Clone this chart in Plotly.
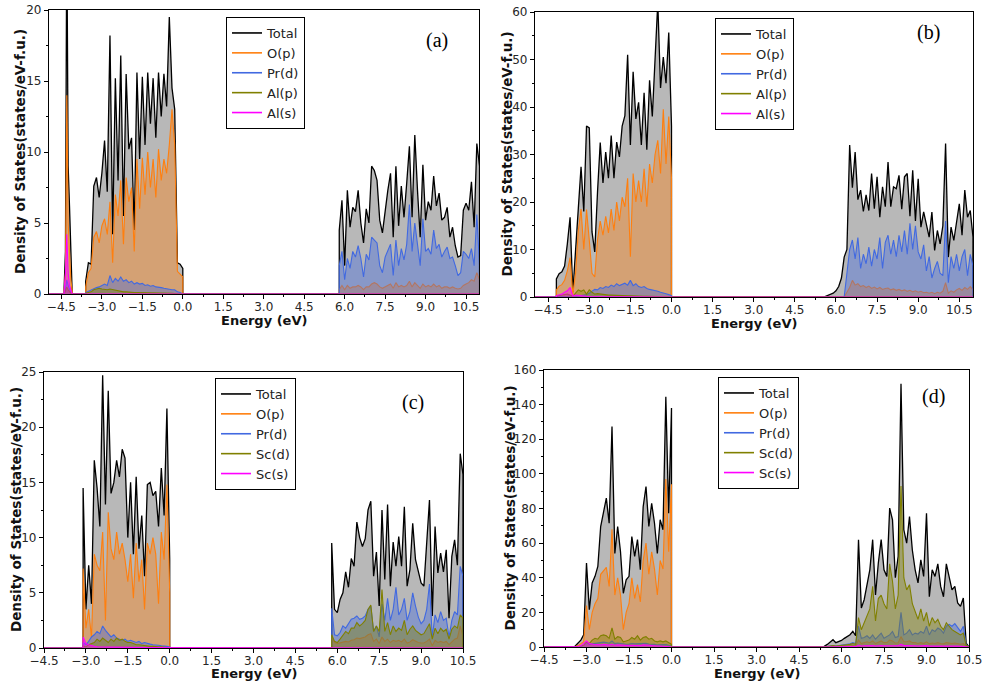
import numpy as np
import plotly.graph_objects as go

W, H = 984, 685
STEP = 0.1      # energy sampling of the bands (eV)
PK_STEP = 0.05  # sampling of the narrow Al peak in (a)

# ====================== DATA ======================
# ---- panel (a) ----
A_PK_START = -4.40
A_TOT_PK = [0.4, 3.0, 26.0, 9.0, 6.2, 2.5, 0.5]
A_OP_PK = [0.2, 1.5, 14.0, 5.0, 3.0, 1.0, 0.2]
A_PRD_PK = [0.05, 0.3, 1.0, 0.6, 0.3, 0.1, 0.0]
A_ALP_PK = [0.02, 0.2, 0.5, 0.3, 0.15, 0.05, 0.0]
A_ALS_PK = [0.1, 1.5, 4.2, 1.5, 0.6, 0.2, 0.0]

A_VB_START = -3.6
A_TOT_VB = [0.9, 2.2, 2.1, 7.6, 8.2, 6.8, 8.5, 10.8, 7.2, 18.2, 4.2, 15.2, 8.0, 16.8, 5.5,
            15.5, 10.2, 11.0, 4.5, 15.6, 9.5, 15.3, 10.5, 15.6, 12.0, 15.2, 11.0, 15.6, 12.5,
            15.5, 13.2, 19.5, 14.5, 13.0, 2.2, 2.1, 1.8]
A_OP_VB = [0.5, 1.5, 1.8, 4.0, 4.4, 3.6, 4.8, 5.3, 4.2, 6.5, 2.2, 7.0, 5.5, 8.0, 3.5, 8.2,
           6.5, 7.5, 3.0, 9.5, 6.0, 9.6, 7.0, 10.0, 7.5, 9.5, 6.8, 10.2, 8.0, 9.5, 8.5, 10.5,
           13.0, 10.5, 1.6, 1.4, 1.2]
A_PRD_VB = [0.1, 0.2, 0.3, 0.4, 0.45, 0.5, 0.6, 0.7, 0.6, 1.3, 0.8, 1.1, 0.9, 1.2, 0.9, 1.0,
            0.8, 0.9, 0.7, 0.8, 0.7, 0.75, 0.6, 0.65, 0.55, 0.6, 0.5, 0.5, 0.45, 0.4, 0.35,
            0.35, 0.3, 0.3, 0.15, 0.1, 0.05]
A_ALP_VB = [0.05, 0.1, 0.15, 0.3, 0.35, 0.4, 0.35, 0.3, 0.3, 0.35, 0.3, 0.25, 0.2, 0.2, 0.15,
            0.15, 0.12, 0.12, 0.1, 0.1, 0.1, 0.1, 0.08, 0.08, 0.08, 0.07, 0.07, 0.06, 0.06,
            0.05, 0.05, 0.05, 0.05, 0.04, 0.03, 0.02, 0.01]

A_CB_START = 5.8
A_TOT_CB = [4.5, 6.6, 2.0, 7.3, 4.7, 6.1, 5.8, 7.3, 5.0, 3.6, 6.0, 5.0, 9.0, 8.7, 8.0, 5.2,
            4.3, 6.0, 7.3, 8.5, 4.0, 9.0, 4.8, 7.6, 5.4, 7.8, 10.4, 5.4, 11.2, 7.3, 4.0, 9.1,
            5.2, 6.5, 5.9, 8.3, 6.2, 7.1, 5.2, 5.4, 6.1, 4.0, 4.7, 3.4, 2.6, 2.7, 5.9, 6.4,
            5.9, 7.9, 4.7, 10.6, 9.0]
A_PRD_CB = [2.0, 3.0, 1.0, 2.5, 1.8, 3.0, 2.6, 3.4, 2.5, 1.2, 2.8, 2.4, 4.0, 3.8, 3.6, 2.0,
            1.5, 2.6, 3.0, 3.5, 1.3, 3.8, 2.0, 3.2, 2.4, 3.5, 6.3, 3.0, 5.0, 3.4, 2.0, 5.3,
            3.0, 3.2, 2.8, 4.5, 3.2, 3.5, 2.6, 3.0, 3.3, 2.5, 2.6, 2.0, 1.3, 1.5, 3.0, 2.8,
            2.5, 3.2, 2.0, 5.6, 2.0]
A_OP_CB = [0.3, 0.6, 0.3, 0.6, 0.4, 0.5, 0.5, 0.6, 0.5, 0.3, 0.5, 0.5, 0.7, 0.8, 0.7, 0.5,
           0.4, 0.5, 0.6, 0.7, 0.4, 0.8, 0.5, 0.6, 0.5, 0.6, 0.9, 0.5, 0.8, 0.6, 0.4, 0.7,
           0.5, 0.6, 0.5, 0.7, 0.5, 0.6, 0.4, 0.5, 0.5, 0.4, 0.5, 0.4, 0.35, 0.4, 0.6, 0.7,
           0.8, 1.0, 0.9, 1.5, 1.0]

# ---- panel (b) ----
B_VB_START = -4.2
B_TOT_VB = [3.8, 4.9, 5.3, 6.5, 11.2, 16.8, 1.0, 8.8, 18.6, 27.4, 18.0, 36.0, 35.6, 13.7,
            9.5, 22.0, 32.5, 24.0, 30.5, 25.0, 34.0, 25.0, 32.6, 29.5, 36.0, 38.2, 51.0,
            32.0, 47.4, 37.5, 41.0, 32.0, 43.0, 31.0, 45.6, 38.0, 50.2, 62.0, 44.0, 50.5,
            45.0, 55.7, 36.0]
B_OP_VB = [1.5, 2.3, 2.6, 3.5, 5.5, 8.3, 0.5, 5.0, 14.0, 18.5, 10.0, 18.4, 12.0, 5.0, 4.2,
           12.0, 16.0, 13.0, 17.0, 13.5, 18.5, 14.0, 20.0, 16.0, 21.0, 19.0, 25.0, 8.5, 26.0,
           20.0, 24.5, 20.0, 27.0, 19.0, 28.0, 24.0, 30.0, 33.0, 26.0, 39.5, 28.0, 38.0, 25.0]
B_PRD_VB = [0.05, 0.05, 0.1, 0.1, 0.15, 0.2, 0.05, 0.1, 0.2, 0.3, 0.3, 0.5, 0.8, 1.2, 1.6,
            1.5, 2.0, 1.8, 2.2, 2.0, 2.5, 2.2, 2.8, 2.4, 2.6, 2.9, 2.5, 3.5, 2.4, 2.8, 2.2,
            2.0, 2.2, 1.8, 1.6, 1.5, 1.3, 1.2, 1.0, 0.9, 0.7, 0.5, 0.3]
B_ALP_VB = [0.2, 0.3, 0.4, 0.5, 0.6, 0.4, 0.1, 0.8, 1.5, 1.2, 1.5, 0.6, 1.5, 1.0, 0.6, 0.7,
            0.6, 0.5, 0.5, 0.4, 0.4, 0.35, 0.35, 0.3, 0.3, 0.3, 0.25, 0.25, 0.2, 0.2, 0.2,
            0.15, 0.15, 0.15, 0.1, 0.1, 0.1, 0.1, 0.08, 0.08, 0.05, 0.05, 0.03]
B_ALS_VB = [0.3, 0.5, 0.6, 1.0, 1.3, 2.0, 0.2, 0.4, 0.3, 0.2, 0.15, 0.15, 0.12, 0.1, 0.1,
            0.1, 0.08, 0.08, 0.08, 0.07, 0.07, 0.06, 0.06, 0.06, 0.05, 0.05, 0.05, 0.05,
            0.04, 0.04, 0.04, 0.04, 0.03, 0.03, 0.03, 0.03, 0.02, 0.02, 0.02, 0.02, 0.02,
            0.01, 0.01]

B_CB_START = 5.5
B_TOT_CB = [0.05, 0.1, 0.3, 0.5, 0.8, 1.3, 2.2, 4.0, 8.4, 10.0, 32.0, 23.0, 30.5, 20.5,
            22.5, 18.0, 21.5, 18.2, 26.0, 18.6, 25.3, 16.8, 23.2, 19.0, 28.4, 19.0, 23.2,
            22.8, 25.6, 18.5, 25.3, 26.0, 17.0, 26.7, 16.0, 24.9, 14.7, 17.9, 15.4, 12.6,
            17.9, 9.8, 14.0, 11.2, 15.0, 32.3, 8.4, 14.7, 11.9, 16.1, 19.6, 13.0, 22.5,
            16.8, 18.2, 12.6]
B_PRD_CB = [0, 0, 0, 0, 0, 0, 0, 0, 0, 5.0, 10.0, 12.0, 8.0, 12.5, 6.0, 9.0, 7.0, 10.5,
            6.5, 10.0, 8.0, 12.5, 6.0, 11.5, 13.0, 9.0, 12.0, 8.5, 13.0, 9.5, 14.0, 9.0,
            15.5, 10.0, 15.0, 9.5, 8.0, 11.0, 5.5, 8.5, 4.0, 6.0, 7.5, 5.0, 4.5, 16.0, 3.0,
            8.5, 6.0, 9.0, 5.5, 8.5, 10.0, 4.5, 9.0, 6.5]
B_OP_CB = [0, 0, 0, 0, 0, 0, 0, 0, 0, 1.0, 2.0, 3.5, 2.5, 2.8, 2.2, 2.4, 2.0, 2.3, 1.8, 2.1,
           1.7, 2.0, 1.6, 1.8, 1.9, 1.5, 1.7, 1.4, 1.6, 1.3, 1.5, 1.2, 1.4, 1.1, 1.3, 1.0,
           1.2, 0.9, 1.0, 0.8, 1.0, 0.7, 1.0, 0.8, 1.2, 3.0, 0.8, 1.3, 1.0, 1.5, 1.8, 1.4,
           2.0, 1.6, 2.2, 1.5]

# ---- panel (c) ----
C_VB_START = -3.1
C_TOT_VB = [14.5, 3.5, 7.5, 4.0, 17.0, 14.5, 11.0, 24.7, 13.0, 23.3, 14.0, 15.0, 17.0, 15.5,
            18.0, 17.2, 10.0, 15.0, 8.5, 15.5, 9.0, 12.0, 6.5, 14.8, 15.0, 13.8, 14.2, 11.0,
            16.3, 12.0, 21.7, 8.0]
C_OP_VB = [7.2, 1.8, 3.5, 0.9, 8.5, 7.5, 7.0, 10.5, 2.5, 12.3, 9.0, 8.0, 10.5, 8.5, 9.5, 8.0,
           6.0, 8.5, 4.5, 9.5, 6.0, 8.0, 3.5, 9.5, 8.5, 10.0, 8.5, 4.0, 10.5, 8.0, 14.8, 5.0]
C_PRD_VB = [0.5, 0.3, 0.6, 1.0, 1.2, 1.5, 1.3, 2.0, 1.6, 1.3, 1.0, 1.2, 0.9, 0.8, 0.7, 0.8,
            0.6, 0.7, 0.6, 0.5, 0.6, 0.4, 0.5, 0.4, 0.35, 0.3, 0.3, 0.25, 0.2, 0.2, 0.15, 0.1]
C_SCD_VB = [0.2, 0.1, 0.3, 0.4, 0.5, 0.8, 0.6, 0.9, 0.7, 0.5, 0.8, 0.6, 0.9, 0.7, 0.8, 0.6,
            0.5, 0.5, 0.4, 0.3, 0.3, 0.25, 0.2, 0.2, 0.15, 0.15, 0.1, 0.1, 0.1, 0.05, 0.05, 0.03]
C_SCS_VB = [1.0, 0.4, 0.3, 0.2, 0.15, 0.12, 0.1, 0.1, 0.1, 0.08, 0.08, 0.08, 0.07, 0.07,
            0.06, 0.06, 0.05, 0.05, 0.05, 0.04, 0.04, 0.04, 0.03, 0.03, 0.03, 0.03, 0.02,
            0.02, 0.02, 0.02, 0.01, 0.01]

C_CB_START = 5.8
C_TOT_CB = [9.5, 3.5, 3.2, 4.4, 5.0, 6.9, 5.5, 8.1, 7.4, 11.4, 10.0, 9.2, 9.9, 12.5, 13.3,
            6.5, 8.7, 3.8, 12.5, 6.2, 13.0, 5.6, 9.6, 7.4, 10.1, 7.4, 12.8, 5.6, 7.1, 11.3,
            8.0, 6.8, 5.9, 5.6, 9.2, 13.4, 2.9, 11.0, 6.8, 8.6, 6.9, 8.9, 2.7, 8.3, 9.8, 7.5,
            17.6, 15.7]
C_PRD_CB = [3.6, 1.2, 1.1, 1.4, 2.0, 1.8, 2.2, 2.6, 2.7, 2.9, 2.6, 2.7, 2.9, 3.5, 3.8, 1.5,
            2.0, 1.0, 4.0, 2.5, 4.5, 2.5, 3.5, 5.5, 3.0, 3.5, 4.5, 2.5, 3.3, 5.0, 3.8, 2.8,
            2.2, 2.5, 3.5, 5.8, 1.0, 3.0, 2.3, 3.3, 2.5, 2.7, 1.0, 2.5, 3.3, 3.0, 7.4, 6.5]
C_SCD_CB = [1.2, 0.6, 0.5, 0.8, 1.2, 1.5, 1.3, 1.8, 1.8, 2.3, 2.0, 2.2, 2.5, 3.5, 3.9, 1.5,
            2.0, 1.5, 5.3, 1.5, 2.3, 1.2, 2.0, 1.5, 1.8, 1.6, 2.5, 1.2, 1.7, 2.0, 1.6, 1.4,
            1.2, 1.3, 1.8, 2.2, 0.8, 1.8, 1.3, 1.8, 1.5, 1.7, 0.8, 1.7, 2.0, 1.8, 3.0, 2.7]
C_OP_CB = [1.0, 0.5, 0.4, 0.45, 0.5, 0.6, 0.55, 0.7, 0.75, 0.9, 0.85, 0.9, 1.0, 1.2, 1.3,
           0.6, 0.8, 0.4, 1.0, 0.6, 0.8, 0.5, 0.7, 0.6, 0.7, 0.55, 0.8, 0.45, 0.55, 0.75,
           0.6, 0.5, 0.45, 0.45, 0.6, 0.8, 0.2, 0.7, 0.5, 0.6, 0.5, 0.6, 0.3, 0.6, 0.8, 0.9,
           2.0, 1.0]

# ---- panel (d) ----
D_VB_START = -3.4
D_TOT_VB = [0.5, 2.0, 4.0, 7.0, 48.5, 21.5, 37.0, 40.8, 46.5, 69.6, 77.3, 86.0, 71.5, 127.3,
            54.0, 69.6, 55.0, 31.0, 38.8, 40.8, 63.8, 52.3, 62.0, 44.6, 81.0, 92.7, 69.6,
            83.0, 71.5, 54.0, 73.5, 67.7, 144.6, 77.3, 138.0]
D_OP_VB = [0.2, 0.8, 2.0, 3.0, 24.0, 10.0, 20.0, 25.0, 28.0, 42.0, 44.0, 46.0, 35.0, 68.0,
           30.0, 40.0, 30.0, 10.0, 20.0, 25.0, 40.0, 28.0, 36.0, 26.0, 50.0, 60.0, 42.0, 55.0,
           45.0, 30.0, 50.0, 45.0, 97.0, 55.0, 94.0]
D_PRD_VB = [0.1, 0.2, 0.4, 0.8, 2.5, 1.5, 1.8, 2.0, 2.2, 2.5, 2.8, 2.6, 2.2, 3.5, 2.0, 2.3,
            2.0, 1.5, 1.6, 1.7, 2.0, 1.8, 1.9, 1.6, 2.0, 2.1, 1.7, 1.8, 1.5, 1.2, 1.3, 1.1,
            1.4, 1.0, 0.8]
D_SCD_VB = [0.1, 0.3, 0.6, 1.0, 3.0, 2.0, 4.0, 5.0, 4.5, 6.5, 7.0, 6.5, 5.0, 11.0, 4.5, 6.0,
            5.5, 3.0, 3.5, 4.0, 5.5, 4.5, 6.5, 4.0, 5.5, 6.0, 4.5, 5.0, 3.5, 3.0, 3.5, 3.0,
            3.5, 2.5, 1.5]
D_SCS_VB = [0.1, 0.3, 0.8, 2.0, 3.5, 2.0, 1.5, 1.3, 1.4, 1.2, 1.5, 1.3, 1.1, 1.6, 1.0, 1.2,
            1.0, 0.8, 0.9, 0.8, 1.0, 0.9, 1.0, 0.8, 1.2, 1.0, 0.9, 0.8, 0.7, 0.6, 0.6, 0.5,
            0.5, 0.4, 0.3]

D_CB_START = 5.4
D_TOT_CB = [0.5, 1.5, 3.0, 4.2, 2.5, 3.0, 3.8, 5.0, 6.2, 7.1, 9.0, 6.5, 62.0, 22.5, 27.3,
            37.0, 44.6, 62.0, 30.0, 48.5, 62.0, 44.6, 40.8, 80.2, 73.5, 40.0, 52.3, 152.0,
            67.7, 60.0, 75.4, 56.0, 44.6, 37.0, 50.4, 40.8, 77.3, 29.0, 44.6, 40.8, 48.0,
            35.0, 29.0, 48.0, 40.8, 33.0, 35.0, 25.4, 23.5, 28.3, 2.3, 0.3]
D_SCD_CB = [0.1, 0.3, 0.6, 0.8, 0.5, 0.6, 0.8, 1.0, 1.3, 1.5, 2.0, 1.5, 17.0, 10.0, 14.0,
            18.0, 22.0, 35.0, 15.0, 28.0, 30.0, 25.0, 22.0, 48.0, 38.0, 22.0, 30.0, 93.0,
            40.0, 33.0, 36.0, 25.0, 20.0, 16.0, 22.0, 15.0, 20.0, 12.0, 17.0, 14.0, 16.0,
            12.0, 10.0, 14.0, 12.0, 10.0, 9.0, 8.0, 7.0, 8.0, 1.0, 0.1]
D_PRD_CB = [0.1, 0.3, 0.6, 0.9, 0.6, 0.8, 1.0, 1.3, 1.6, 1.9, 2.5, 2.0, 12.0, 5.0, 5.5, 6.5,
            5.0, 7.0, 4.5, 6.0, 8.0, 5.0, 6.0, 7.0, 9.0, 5.5, 6.0, 20.0, 7.0, 8.0, 10.0, 7.0,
            8.0, 7.5, 9.0, 8.0, 12.0, 7.0, 10.0, 9.0, 11.0, 10.0, 8.0, 12.0, 13.0, 12.0, 13.5,
            11.0, 9.0, 12.0, 1.0, 0.1]
D_OP_CB = [0.05, 0.1, 0.2, 0.3, 0.2, 0.25, 0.3, 0.4, 0.5, 0.6, 0.8, 0.6, 4.0, 2.0, 2.5, 3.0,
           2.5, 3.5, 2.0, 3.0, 3.5, 2.5, 2.5, 4.0, 3.5, 2.2, 2.5, 6.0, 3.0, 3.0, 3.5, 2.5,
           2.5, 2.0, 2.5, 2.0, 3.0, 1.8, 2.3, 2.0, 2.5, 2.0, 1.8, 2.5, 2.2, 2.0, 2.3, 1.8,
           1.6, 2.0, 0.3, 0.05]
D_SCS_CB = [0.0, 0.0, 0.05, 0.1, 0.05, 0.05, 0.1, 0.1, 0.15, 0.2, 0.25, 0.2, 1.0, 0.6, 0.7,
            0.8, 0.7, 0.9, 0.6, 0.8, 0.9, 0.7, 0.7, 1.0, 0.9, 0.6, 0.7, 1.5, 0.8, 0.8, 0.9,
            0.7, 0.7, 0.6, 0.7, 0.6, 0.8, 0.5, 0.6, 0.6, 0.7, 0.6, 0.5, 0.6, 0.6, 0.5, 0.6,
            0.5, 0.4, 0.5, 0.1, 0.02]

NAMES_AB = ["Total", "O(p)", "Pr(d)", "Al(p)", "Al(s)"]
NAMES_CD = ["Total", "O(p)", "Pr(d)", "Sc(d)", "Sc(s)"]
PANEL_LABELS = ["(a)", "(b)", "(c)", "(d)"]
X_TITLE = "Energy (eV)"
Y_TITLE = "Density of States(states/eV-f.u.)"

# ====================== STYLE ======================
LINE_COLORS = ["#000000", "#ff7f0e", "#4169e1", "#808000", "#ff00ff"]
FILL_COLORS = ["rgba(128,128,128,0.56)", "rgba(255,127,14,0.40)", "rgba(65,105,225,0.40)",
               "rgba(128,128,0,0.40)", "rgba(255,0,255,0.40)"]
LINE_WIDTHS = [1.3, 1.1, 1.1, 1.1, 1.1]


def energies(start, n, step):
    return np.round(start + step * np.arange(n), 3)


def build(xr, segments):
    xs, ys = [xr[0]], [0.0]
    for start, vals, step in segments:
        e = energies(start, len(vals), step)
        xs += [e[0], *e.tolist(), e[-1]]
        ys += [0.0, *vals, 0.0]
    xs.append(xr[1])
    ys.append(0.0)
    return xs, ys


PANELS = [
    dict(xr=[-4.96, 10.98], yr=[0, 20], dt=5, box=(49, 10, 479, 294), names=NAMES_AB,
         leg=(226, 17), lab=(437, 40), ytx=20, xty=320,
         series=[
             [(A_PK_START, A_TOT_PK, PK_STEP), (A_VB_START, A_TOT_VB, STEP), (A_CB_START, A_TOT_CB, STEP)],
             [(A_PK_START, A_OP_PK, PK_STEP), (A_VB_START, A_OP_VB, STEP), (A_CB_START, A_OP_CB, STEP)],
             [(A_PK_START, A_PRD_PK, PK_STEP), (A_VB_START, A_PRD_VB, STEP), (A_CB_START, A_PRD_CB, STEP)],
             [(A_PK_START, A_ALP_PK, PK_STEP), (A_VB_START, A_ALP_VB, STEP)],
             [(A_PK_START, A_ALS_PK, PK_STEP)],
         ]),
    dict(xr=[-4.98, 11.0], yr=[0, 60], dt=10, box=(535, 12, 973, 297), names=NAMES_AB,
         leg=(715, 18), lab=(928, 32), ytx=506, xty=323,
         series=[
             [(B_VB_START, B_TOT_VB, STEP), (B_CB_START, B_TOT_CB, STEP)],
             [(B_VB_START, B_OP_VB, STEP), (B_CB_START, B_OP_CB, STEP)],
             [(B_VB_START, B_PRD_VB, STEP), (B_CB_START, B_PRD_CB, STEP)],
             [(B_VB_START, B_ALP_VB, STEP)],
             [(B_VB_START, B_ALS_VB, STEP)],
         ]),
    dict(xr=[-4.5, 10.5], yr=[0, 25], dt=5, box=(44, 372, 463, 648), names=NAMES_CD,
         leg=(215, 378), lab=(413, 402), ytx=16, xty=673,
         series=[
             [(C_VB_START, C_TOT_VB, STEP), (C_CB_START, C_TOT_CB, STEP)],
             [(C_VB_START, C_OP_VB, STEP), (C_CB_START, C_OP_CB, STEP)],
             [(C_VB_START, C_PRD_VB, STEP), (C_CB_START, C_PRD_CB, STEP)],
             [(C_VB_START, C_SCD_VB, STEP), (C_CB_START, C_SCD_CB, STEP)],
             [(C_VB_START, C_SCS_VB, STEP)],
         ]),
    dict(xr=[-4.5, 10.5], yr=[0, 160], dt=20, box=(544, 370, 969, 647), names=NAMES_CD,
         leg=(718, 377), lab=(933, 396), ytx=509, xty=673,
         series=[
             [(D_VB_START, D_TOT_VB, STEP), (D_CB_START, D_TOT_CB, STEP)],
             [(D_VB_START, D_OP_VB, STEP), (D_CB_START, D_OP_CB, STEP)],
             [(D_VB_START, D_PRD_VB, STEP), (D_CB_START, D_PRD_CB, STEP)],
             [(D_VB_START, D_SCD_VB, STEP), (D_CB_START, D_SCD_CB, STEP)],
             [(D_VB_START, D_SCS_VB, STEP), (D_CB_START, D_SCS_CB, STEP)],
         ]),
]

fig = go.Figure()
layout = dict(width=W, height=H, margin=dict(l=0, r=0, t=0, b=0, pad=0, autoexpand=False),
              autosize=False, paper_bgcolor="white", plot_bgcolor="white", showlegend=True,
              font=dict(family="DejaVu Sans", color="#222"))
annotations = []

TICKFONT = dict(family="DejaVu Sans", size=12, color="#262626")

for i, p in enumerate(PANELS, start=1):
    sfx = "" if i == 1 else str(i)
    xa, ya = f"x{sfx}", f"y{sfx}"
    lg = "legend" if i == 1 else f"legend{i}"
    x0, y0, x1, y1 = p["box"]
    for k, segs in enumerate(p["series"]):
        xs, ys = build(p["xr"], segs)
        fig.add_trace(go.Scatter(
            x=xs, y=ys, mode="lines", fill="tozeroy", fillcolor=FILL_COLORS[k],
            line=dict(color=LINE_COLORS[k], width=LINE_WIDTHS[k]),
            showlegend=False, hoverinfo="skip", xaxis=xa, yaxis=ya))
    for k, nm in enumerate(p["names"]):
        fig.add_trace(go.Scatter(
            x=[None], y=[None], mode="lines", name=nm,
            line=dict(color=LINE_COLORS[k], width=1.6),
            legend=lg, xaxis=xa, yaxis=ya))

    common = dict(showline=True, linecolor="black", linewidth=1.3, mirror=True,
                  ticks="outside", ticklen=4, tickwidth=1, tickcolor="black",
                  showgrid=False, zeroline=False, tickfont=TICKFONT, automargin=False)
    layout[f"xaxis{sfx}"] = dict(
        domain=[x0 / W, x1 / W], range=p["xr"], anchor=ya,
        tickmode="linear", tick0=0, dtick=1.5, tickformat=".1f", ticklabelstandoff=-3,
        minor=dict(dtick=0.75, tick0=0, ticks="outside", ticklen=2, tickcolor="black"),
        **common)
    layout[f"yaxis{sfx}"] = dict(
        domain=[1 - y1 / H, 1 - y0 / H], range=p["yr"], anchor=xa,
        tickmode="linear", tick0=0, dtick=p["dt"],
        minor=dict(dtick=p["dt"] / 2, tick0=0, ticks="outside", ticklen=2, tickcolor="black"),
        **common)
    layout[lg] = dict(
        x=p["leg"][0] / W, y=1 - p["leg"][1] / H, xanchor="left", yanchor="top",
        xref="paper", yref="paper", bgcolor="white", bordercolor="black", borderwidth=1,
        font=dict(family="DejaVu Sans", size=13, color="#222"), itemwidth=30,
        tracegroupgap=0)

    annotations.append(dict(text=PANEL_LABELS[i - 1], x=p["lab"][0] / W, y=1 - p["lab"][1] / H,
                            xref="paper", yref="paper", showarrow=False,
                            xanchor="center", yanchor="middle",
                            font=dict(family="Liberation Serif", size=20, color="black")))
    annotations.append(dict(text=f"<b>{X_TITLE}</b>", x=(x0 + x1) / 2 / W, y=1 - p["xty"] / H,
                            xref="paper", yref="paper", showarrow=False,
                            xanchor="center", yanchor="middle",
                            font=dict(family="DejaVu Sans", size=13, color="#111")))
    annotations.append(dict(text=f"<b>{Y_TITLE}</b>", x=p["ytx"] / W, y=1 - (y0 + y1) / 2 / H,
                            xref="paper", yref="paper", showarrow=False, textangle=-90,
                            xanchor="center", yanchor="middle",
                            font=dict(family="DejaVu Sans", size=13.5, color="#111")))

layout["annotations"] = annotations
fig.update_layout(**layout)
# remove the browser's default 8px page margin so the figure sits at the window origin
fig.write_html("out.html", config={"displayModeBar": False},
               post_script="document.body.style.margin='0';document.body.style.overflow='hidden';")
